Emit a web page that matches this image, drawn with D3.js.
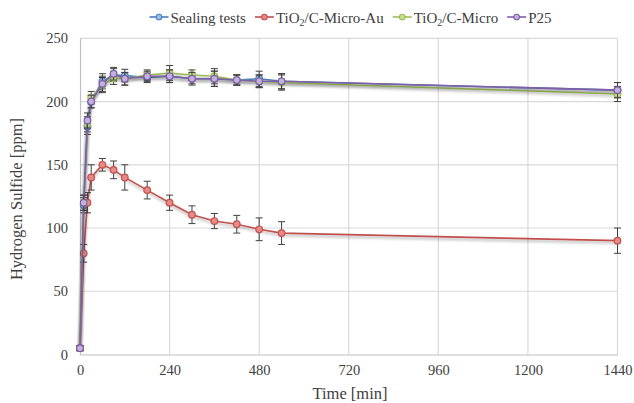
<!DOCTYPE html>
<html><head><meta charset="utf-8">
<script src="https://cdn.jsdelivr.net/npm/d3@7"></script>
<style>body{margin:0;background:#fff}svg{display:block}svg text{font-family:'Liberation Serif',serif}</style>
</head><body>
<svg id="c" width="634" height="403" font-family="Liberation Serif"></svg>
<script>
const times = [0, 10, 20, 30, 60, 90, 120, 180, 240, 300, 360, 420, 480, 540, 1440];
const sealing = [5, 118, 180, 200, 216, 221, 220.5, 219, 220, 218, 218, 217, 218, 216, 209];
const sealingErr = [2, 6, 6, 5, 6, 5, 5, 4, 5, 4, 6, 4, 6, 6, 6];
const microAu = [5, 80, 120, 140, 150, 146, 140, 130, 120, 110.5, 105.5, 103, 99, 96, 90];
const microAuErr = [2, 7, 8, 10, 5, 7, 10, 7, 6, 7, 6, 7, 9, 9, 10];
const micro = [5, 120, 182, 203, 213, 218.5, 218, 221, 222.5, 221, 220, 217, 216, 215, 206];
const microErr = [2, 6, 6, 5, 6, 5, 5, 4, 6, 4, 6, 4, 5, 6, 6];
const p25 = [5, 120, 185, 200, 214, 222, 218, 220, 220, 218, 218, 217, 216, 216, 209];
const p25Err = [2, 6, 6, 5, 6, 5, 5, 4, 5, 5, 6, 4, 5, 6, 6];
const seriesNames = ["Sealing tests", "TiO2/C-Micro-Au", "TiO2/C-Micro", "P25"];
const lineColors = ["#4a7ebb", "#c0504d", "#9bbb59", "#7d5fa5"];
const markerFills = ["#9fc0ec", "#e88a87", "#c8e08e", "#c4b0e0"];
const xTicks = [0, 240, 480, 720, 960, 1200, 1440];
const yTicks = [0, 50, 100, 150, 200, 250];

const FONT = "'Liberation Serif', serif";
const svg = d3.select("#c");
const x = d3.scaleLinear().domain([0, 1440]).range([80, 617.5]);
const y = d3.scaleLinear().domain([0, 250]).range([354.5, 38.3]);
function setFont(sel, size){ sel.style("font-family", FONT).style("font-size", size + "px"); return sel; }

const defs = svg.append("defs");
const f = defs.append("filter").attr("id","sh").attr("x","-10%").attr("y","-10%").attr("width","120%").attr("height","130%");
f.append("feGaussianBlur").attr("in","SourceAlpha").attr("stdDeviation",1.6).attr("result","b");
f.append("feOffset").attr("dy",1.5).attr("result","o");
f.append("feComponentTransfer").append("feFuncA").attr("type","linear").attr("slope",0.35);
const m = f.append("feMerge"); m.append("feMergeNode"); m.append("feMergeNode").attr("in","SourceGraphic");

svg.append("g").selectAll("line").data(yTicks.slice(1)).join("line")
  .attr("x1", x(0)).attr("x2", x(1440)).attr("y1", d=>y(d)).attr("y2", d=>y(d))
  .attr("stroke","#d9d9d9").attr("stroke-width",1.2);
svg.append("g").selectAll("line").data(xTicks.slice(1)).join("line")
  .attr("x1", d=>x(d)).attr("x2", d=>x(d)).attr("y1", y(0)).attr("y2", y(250))
  .attr("stroke","#d9d9d9").attr("stroke-width",1.2);

const xa = svg.append("g").attr("transform",`translate(0,${y(0)})`)
  .call(d3.axisBottom(x).tickValues(xTicks).tickFormat(d3.format("d")).tickSize(0).tickPadding(10));
xa.attr("font-family", null).attr("font-size", null);
xa.select(".domain").attr("stroke","#bfbfbf").attr("stroke-width",1.2);
setFont(xa.selectAll("text"), 14.5).attr("fill","#404040");
const ya = svg.append("g").attr("transform",`translate(${x(0)},0)`)
  .call(d3.axisLeft(y).tickValues(yTicks).tickFormat(d3.format("d")).tickSize(0).tickPadding(12));
ya.attr("font-family", null).attr("font-size", null);
ya.select(".domain").attr("stroke","#bfbfbf").attr("stroke-width",1.2);
setFont(ya.selectAll("text"), 14.5).attr("fill","#404040");

setFont(svg.append("text").attr("x",350).attr("y",398.5).attr("text-anchor","middle"), 16.5)
  .attr("fill","#404040").text("Time [min]");
setFont(svg.append("text").attr("transform","translate(22,199) rotate(-90)").attr("text-anchor","middle"), 16.5)
  .attr("fill","#404040").text("Hydrogen Sulfide [ppm]");

const all = [[sealing, sealingErr],[microAu, microAuErr],[micro, microErr],[p25, p25Err]];
const line = d3.line().x((d,i)=>x(times[i])).y(d=>y(d));
all.forEach(([vals, errs], k) => {
  const g = svg.append("g");
  g.append("path").datum(vals).attr("d", line).attr("fill","none")
    .attr("stroke", lineColors[k]).attr("stroke-width",1.6).attr("filter","url(#sh)");
  const eb = g.append("g").attr("stroke","#404040").attr("stroke-width",1);
  vals.forEach((v,i)=>{
    const cx = x(times[i]), y1 = y(v+errs[i]), y2 = y(v-errs[i]);
    eb.append("line").attr("x1",cx).attr("x2",cx).attr("y1",y1).attr("y2",y2);
    eb.append("line").attr("x1",cx-3.5).attr("x2",cx+3.5).attr("y1",y1).attr("y2",y1);
    eb.append("line").attr("x1",cx-3.5).attr("x2",cx+3.5).attr("y1",y2).attr("y2",y2);
  });
  g.append("g").selectAll("circle").data(vals).join("circle")
    .attr("cx",(d,i)=>x(times[i])).attr("cy",d=>y(d)).attr("r",3.3)
    .attr("fill", markerFills[k]).attr("stroke", lineColors[k]).attr("stroke-width",1.2);
});

// legend, laid out from measured text widths, centred like the reference
const legG = svg.append("g");
const items = seriesNames.map((name,k)=>{
  const g = legG.append("g");
  g.append("line").attr("x1",0).attr("x2",19).attr("y1",17).attr("y2",17)
    .attr("stroke",lineColors[k]).attr("stroke-width",1.6);
  g.append("circle").attr("cx",9.5).attr("cy",17).attr("r",2.8)
    .attr("fill",markerFills[k]).attr("stroke",lineColors[k]).attr("stroke-width",1.1);
  const t = setFont(g.append("text").attr("x",21).attr("y",22.5), 15).attr("fill","#404040");
  if (name.startsWith("TiO2")) {
    t.append("tspan").text("TiO");
    t.append("tspan").style("font-size","10px").attr("dy",3).text("2");
    t.append("tspan").attr("dy",-3).text(name.slice(4));
  } else t.text(name);
  return {g, w: 21 + t.node().getComputedTextLength()};
});
const gap = 9;
const total = d3.sum(items, d=>d.w) + gap*(items.length-1);
let cx0 = 350.5 - total/2;
items.forEach(it=>{ it.g.attr("transform",`translate(${cx0},0)`); cx0 += it.w + gap; });
</script></body></html>
